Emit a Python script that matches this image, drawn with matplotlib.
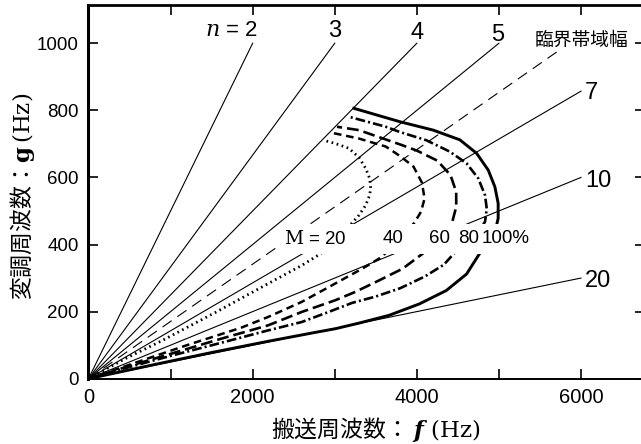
import matplotlib
matplotlib.use("Agg")
import matplotlib.pyplot as plt
from matplotlib.patches import Rectangle

plt.rcParams["mathtext.fontset"] = "dejavuserif"
plt.rcParams["lines.scale_dashes"] = False

NUM_FONT = ["Liberation Sans Narrow", "Liberation Sans", "DejaVu Sans"]
CJK_FONT = ["Noto Sans CJK JP", "DejaVu Sans"]

# ratio lines g = f / n
n_values = [2, 3, 4, 5, 7, 10, 20]
n_line_end_f = [2000, 3000, 4000, 5000, 6000, 6000, 6000]

# critical bandwidth line
cb_f = [0, 5740]
cb_g = [0, 980]

# equal-modulation contours (lower branch from origin, around, back to n=4)
m20_f = [0, 450, 900, 1550, 2200, 2600, 2830, 3000, 3160, 3294, 3377, 3425, 3438,
         3425, 3377, 3294, 3171, 3008, 2864]
m20_g = [0, 60, 114, 198, 285, 338, 373, 410, 450, 487, 517, 547, 567,
         597, 627, 660, 687, 701, 711]

m40_f = [0, 600, 1200, 1860, 2188, 2598, 3008, 3335, 3540, 3720, 3860, 3970, 4052,
         4094, 4063, 3960, 3806, 3622, 3294, 2966]
m40_g = [0, 50, 100, 152, 184, 229, 284, 328, 358, 395, 432, 465, 498,
         537, 584, 632, 662, 692, 716, 733]

m60_f = [0, 500, 1000, 1600, 2188, 2598, 3008, 3253, 3540, 3827, 4073, 4250, 4360,
         4430, 4480, 4480, 4410, 4250, 4000, 3800, 3294, 3028]
m60_g = [0, 38, 74, 118, 159, 199, 234, 259, 293, 328, 373, 410, 440,
         466, 512, 557, 607, 650, 680, 698, 741, 751]

m80_f = [0, 500, 1000, 1600, 2188, 2598, 2926, 3212, 3500, 3800, 4100, 4330, 4470,
         4640, 4760, 4831, 4852, 4831, 4749, 4606, 4401, 4114, 3786, 3622, 3171]
m80_g = [0, 35, 68, 106, 144, 169, 199, 226, 245, 270, 305, 340, 378,
         410, 440, 468, 507, 547, 597, 642, 677, 711, 736, 751, 781]

m100_f = [0, 800, 1500, 2200, 2762, 3008, 3300, 3663, 4032, 4360, 4606, 4770, 4880,
          4960, 4991, 4991, 4951, 4870, 4728, 4525, 4200, 3794, 3233]
m100_g = [0, 42, 78, 112, 138, 149, 166, 189, 223, 263, 312, 375, 410,
          445, 478, 523, 572, 622, 672, 712, 741, 766, 806]

m_labels = ["20", "40", "60", "80", "100%"]

x_ticks = [0, 1000, 2000, 3000, 4000, 5000, 6000]
x_tick_labels = ["0", "", "2000", "", "4000", "", "6000"]
y_ticks = [0, 200, 400, 600, 800, 1000]
y_tick_labels = ["0", "200", "400", "600", "800", "1000"]

fig = plt.figure(figsize=(6.41, 4.44), dpi=100)
ax = fig.add_axes([88.5 / 641, 1 - 378.7 / 444, (645 - 88.5) / 641, (378.7 - 5) / 444])
ax.set_xlim(0, 6780)
ax.set_ylim(0, 1114)

thin = dict(color="black", lw=0.8, zorder=2)
for n, fe in zip(n_values, n_line_end_f):
    ax.plot([0, fe], [0, fe / n], **thin)
ax.plot(cb_f, cb_g, color="black", lw=0.8, linestyle=(0, (8, 5)), zorder=2)

ax.plot(m20_f, m20_g, color="black", lw=2.0, linestyle=(0, (1.2, 2.6)), zorder=2)
ax.plot(m40_f, m40_g, color="black", lw=1.8, linestyle=(0, (5.5, 3.4)), zorder=2)
ax.plot(m60_f, m60_g, color="black", lw=1.9, linestyle=(0, (8.5, 3.6)), zorder=2)
ax.plot(m80_f, m80_g, color="black", lw=1.9, linestyle=(0, (7, 2.2, 1.5, 2.2)), zorder=2)
ax.plot(m100_f, m100_g, color="black", lw=2.1, zorder=2)

# white strip carrying the M labels
ax.add_patch(Rectangle((2345, 372), 5400 - 2345, 462 - 372, fc="white", ec="none", zorder=3))

ax.text(2381, 417, r"$\mathrm{M}$ = " + m_labels[0], family=NUM_FONT, fontsize=13.5,
        ha="left", va="center", zorder=4)
for fx, lab in zip([3715, 4275, 4628, 5085], m_labels[1:]):
    ax.text(fx, 417, lab, family=NUM_FONT, fontsize=13.5, ha="center", va="center", zorder=4)

# n labels
ax.text(2070, 1037, r"$n$ = " + str(n_values[0]), family=NUM_FONT, fontsize=16,
        ha="right", va="center")
for fx, gy, n in [(3002, 1037, 3), (4001, 1031, 4), (4988, 1025, 5)]:
    ax.text(fx, gy, str(n), family=NUM_FONT, fontsize=17, ha="center", va="center")
for gy, n in [(852, 7), (589, 10), (291, 20)]:
    ax.text(6050, gy, str(n), family=NUM_FONT, fontsize=17, ha="left", va="center")
ax.text(6005, 1010, "臨界帯域幅", family=CJK_FONT, fontsize=13.5, ha="center", va="center")

# axes styling
ax.set_xticks(x_ticks)
ax.set_xticklabels(x_tick_labels, family=NUM_FONT, fontsize=14.5)
ax.set_yticks(y_ticks)
ax.set_yticklabels(y_tick_labels, family=NUM_FONT, fontsize=13.5)
ax.tick_params(direction="in", length=7, width=1.2, top=True, right=True)
ax.tick_params(axis="x", pad=7)
ax.tick_params(axis="y", pad=7)
ax.spines["left"].set_linewidth(2.2)
ax.spines["top"].set_linewidth(2.0)
ax.spines["bottom"].set_linewidth(1.4)
ax.spines["right"].set_linewidth(1.4)

ax.text(0.517, -0.135, "搬送周波数： $\\mathbfit{f}\\ \\mathrm{(Hz)}$", transform=ax.transAxes,
        family=CJK_FONT, fontsize=16.5, ha="center", va="center")
ax.text(-0.119, 0.489, "変調周波数：$\\mathbf{g}\\,\\mathrm{(Hz)}$", transform=ax.transAxes,
        family=CJK_FONT, fontsize=16.5, ha="center", va="center", rotation=90)

fig.savefig("out.png", dpi=100)
